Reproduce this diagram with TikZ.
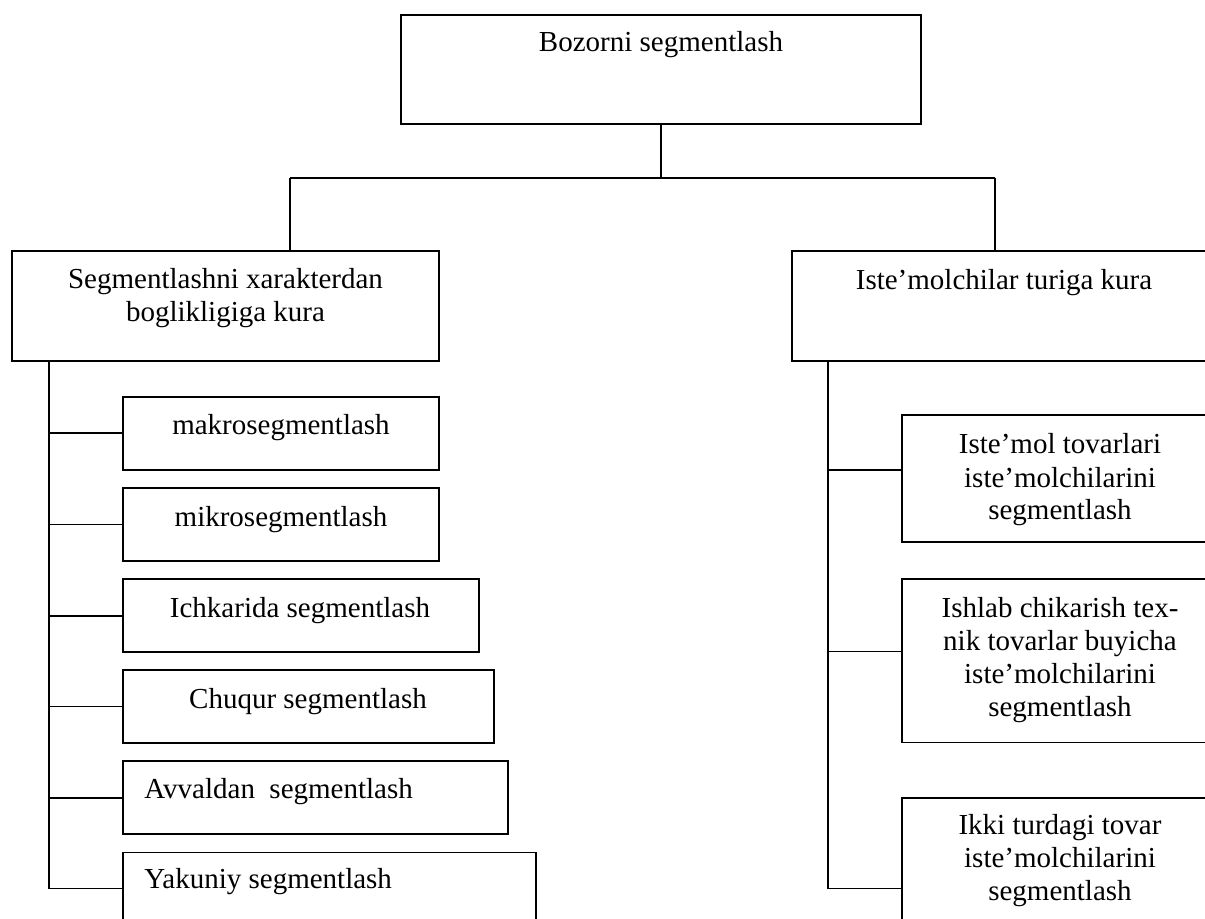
\documentclass[tikz,border=0pt]{standalone}
\usepackage{fontspec}
\setmainfont{Liberation Serif}
\usetikzlibrary{fit}
\tikzset{
  boxst/.style={draw, line width=0.8pt, inner sep=0pt, rectangle},
  txt/.style={align=center, inner sep=0pt, font=\fontsize{14.5}{16.5}\selectfont},
  conn/.style={line width=0.8pt}
}
\begin{document}
\begin{tikzpicture}[x=0.5pt,y=-0.5pt]
\clip (0,0) rectangle (1205,919);
\fill[white] (0,0) rectangle (1205,919);
% boxes
\node[boxst, fit={(401,15) (921,124)}] (top) {};
\node[boxst, fit={(12,251) (439,361)}] (L) {};
\node[boxst, fit={(792,251) (1216,361)}] (R) {};
\node[boxst, fit={(123,397) (439,470)}] (s1) {};
\node[boxst, fit={(123,488) (439,561)}] (s2) {};
\node[boxst, fit={(123,579) (479,652)}] (s3) {};
\node[boxst, fit={(123,670) (494,743)}] (s4) {};
\node[boxst, fit={(123,761) (508,834)}] (s5) {};
\node[boxst, fit={(123,852.5) (536,940)}] (s6) {};
\node[boxst, fit={(902,415) (1218,542)}] (r1) {};
\node[boxst, fit={(902,579) (1218,742.5)}] (r2) {};
\node[boxst, fit={(902,798) (1218,940)}] (r3) {};
% texts (anchor=base is the baseline of the last line)
\node[txt, anchor=base] (ttop) at (661,52) {Bozorni segmentlash};
\node[txt, anchor=base] (tL) at (225.5,322) {Segmentlashni xarakterdan\\boglikligiga kura};
\node[txt, anchor=base] (tR) at (1004,290) {Iste’molchilar turiga kura};
\node[txt, anchor=base] (ts1) at (281,435) {makrosegmentlash};
\node[txt, anchor=base] (ts2) at (281,526) {mikrosegmentlash};
\node[txt, anchor=base] (ts3) at (300,617) {Ichkarida segmentlash};
\node[txt, anchor=base] (ts4) at (308,708) {Chuqur segmentlash};
\node[txt, anchor=base west] (ts5) at (144,798.5) {Avvaldan\ \ segmentlash};
\node[txt, anchor=base west] (ts6) at (144,888.6) {Yakuniy segmentlash};
\node[txt, anchor=base] (tr1) at (1060,520) {Iste’mol tovarlari\\iste’molchilarini\\segmentlash};
\node[txt, anchor=base] (tr2) at (1060,716) {Ishlab chikarish tex-\\nik tovarlar buyicha\\iste’molchilarini\\segmentlash};
\node[txt, anchor=base] (tr3) at (1060,900) {Ikki turdagi tovar\\iste’molchilarini\\segmentlash};
% bus
\coordinate (bl) at (290,178);
\coordinate (br) at (995,178);
\draw[conn] (top.south) -- (top.south |- bl);
\draw[conn] (bl) -- (br);
\draw[conn] (bl) -- (bl |- L.north);
\draw[conn] (br) -- (br |- R.north);
% left trunk
\coordinate (b1) at (49,433.3);
\coordinate (b2) at (49,524.7);
\coordinate (b3) at (49,615.7);
\coordinate (b4) at (49,706.5);
\coordinate (b5) at (49,797.9);
\coordinate (b6) at (49,888.6);
\draw[conn] (L.south -| b1) -- (b6);
\draw[conn] (b1) -- (b1 -| s1.west);
\draw[conn] (b2) -- (b2 -| s2.west);
\draw[conn] (b3) -- (b3 -| s3.west);
\draw[conn] (b4) -- (b4 -| s4.west);
\draw[conn] (b5) -- (b5 -| s5.west);
\draw[conn] (b6) -- (b6 -| s6.west);
% right trunk
\coordinate (c1) at (828,470);
\coordinate (c2) at (828,651.5);
\coordinate (c3) at (828,888.6);
\draw[conn] (R.south -| c1) -- (c3);
\draw[conn] (c1) -- (c1 -| r1.west);
\draw[conn] (c2) -- (c2 -| r2.west);
\draw[conn] (c3) -- (c3 -| r3.west);
\end{tikzpicture}
\end{document}
